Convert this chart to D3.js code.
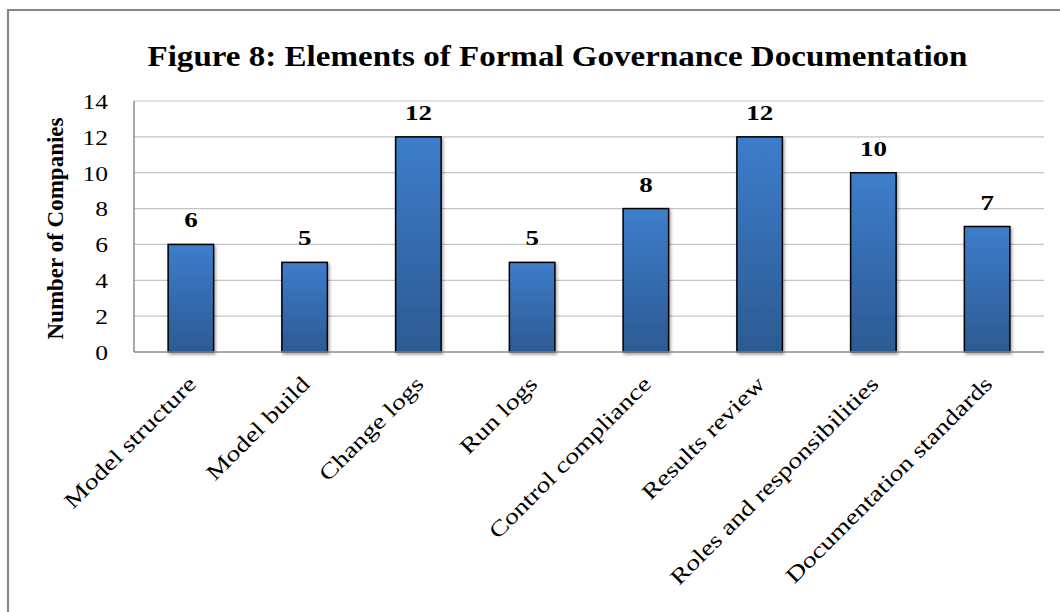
<!DOCTYPE html>
<html><head><meta charset="utf-8">
<script src="https://cdn.jsdelivr.net/npm/d3@7"></script>
<style>html,body{margin:0;padding:0;background:#fff;}svg{display:block;}</style>
</head><body>
<svg id="c" width="1060" height="612"></svg>
<script>
const categories = ["Model structure","Model build","Change logs","Run logs","Control compliance","Results review","Roles and responsibilities","Documentation standards"];
const values = [6,5,12,5,8,12,10,7];
const yTicks = [0,2,4,6,8,10,12,14];
const titleText = "Figure 8: Elements of Formal Governance Documentation";
const yTitle = "Number of Companies";

const svg = d3.select("#c");
const font = "'Liberation Serif', 'Times New Roman', serif";
const m = {left:134, right:1044, top:101, bottom:352};

// stretch texts horizontally by a common ratio so that a reference text gets a given width
function stretch(sel, refNode, target){
  const ratio = target / refNode.getComputedTextLength();
  sel.each(function(){
    const w = this.getComputedTextLength();
    d3.select(this).attr("textLength", w*ratio).attr("lengthAdjust","spacingAndGlyphs");
  });
}

svg.append("path").attr("d","M8,612 L8,10 L1060,10").attr("fill","none").attr("stroke","#878787").attr("stroke-width",2.2);

const defs = svg.append("defs");
const g = defs.append("linearGradient").attr("id","bg").attr("x1",0).attr("y1",0).attr("x2",0).attr("y2",1);
g.append("stop").attr("offset","0%").attr("stop-color","#3d7dcb");
g.append("stop").attr("offset","100%").attr("stop-color","#2c5a93");
const f = defs.append("filter").attr("id","sh").attr("x","-20%").attr("y","-20%").attr("width","150%").attr("height","150%");
f.append("feDropShadow").attr("dx",1.5).attr("dy",2).attr("stdDeviation",1.5).attr("flood-color","#000").attr("flood-opacity",0.35);

const x = d3.scaleBand().domain(categories).range([m.left,m.right]).paddingInner(0.6).paddingOuter(0.3);
const y = d3.scaleLinear().domain([0,14]).range([m.bottom,m.top]);

svg.append("g").selectAll("line").data(yTicks.filter(d=>d>0)).join("line")
  .attr("x1",m.left).attr("x2",m.right).attr("y1",d=>y(d)).attr("y2",d=>y(d))
  .attr("stroke","#c4c4c4").attr("stroke-width",1.2);

svg.append("line").attr("x1",m.left).attr("x2",m.left).attr("y1",m.top).attr("y2",m.bottom).attr("stroke","#8c8c8c").attr("stroke-width",1.5);

svg.append("g").selectAll("rect").data(values).join("rect")
  .attr("x",(d,i)=>x(categories[i])).attr("width",x.bandwidth())
  .attr("y",d=>y(d)).attr("height",d=>y(0)-y(d))
  .attr("fill","url(#bg)").attr("stroke","#000").attr("stroke-width",1.5)
  .attr("filter","url(#sh)");

svg.append("line").attr("x1",m.left).attr("x2",m.right).attr("y1",m.bottom).attr("y2",m.bottom).attr("stroke","#8c8c8c").attr("stroke-width",1.6);

// y axis
const ya = d3.axisLeft(y).tickValues(yTicks).tickSize(0).tickPadding(0);
const yg = svg.append("g").attr("transform",`translate(108,0)`).call(ya);
yg.select(".domain").remove();
const yt_ = yg.selectAll("text").attr("font-family",font).attr("font-size",21.5).attr("fill","#000").attr("dy","0.34em");
stretch(yt_, yt_.filter(d=>d===14).node(), 25.5);

// value labels
const vl = svg.append("g").selectAll("text").data(values).join("text")
  .attr("x",(d,i)=>x(categories[i])+x.bandwidth()/2).attr("y",d=>y(d)-17)
  .attr("text-anchor","middle").attr("font-family",font).attr("font-weight","bold").attr("font-size",22)
  .text(d=>d);
stretch(vl, vl.filter((d,i)=>i===2).node(), 27);

// x axis labels
const xa = d3.axisBottom(x).tickSize(0).tickPadding(0);
const xg = svg.append("g").attr("transform",`translate(0,${m.bottom})`).call(xa);
xg.select(".domain").remove();
const xl = xg.selectAll("text").attr("font-family",font).attr("font-size",22).attr("fill","#000")
  .attr("text-anchor","end").attr("dy","0.35em").attr("y",null)
  .attr("transform","translate(1,28) rotate(-45)");
stretch(xl, xl.filter(d=>d==="Roles and responsibilities").node(), 284);

// title
const tt = svg.append("text").attr("x",557.5).attr("y",66).attr("text-anchor","middle")
  .attr("font-family",font).attr("font-weight","bold").attr("font-size",29).text(titleText);
stretch(tt, tt.node(), 820);

// y title
const yt = svg.append("text").attr("transform",`translate(63,${(m.top+m.bottom)/2+2}) rotate(-90)`)
  .attr("text-anchor","middle").attr("font-family",font).attr("font-weight","bold").attr("font-size",23).text(yTitle);
stretch(yt, yt.node(), 222);
</script>
</body></html>
